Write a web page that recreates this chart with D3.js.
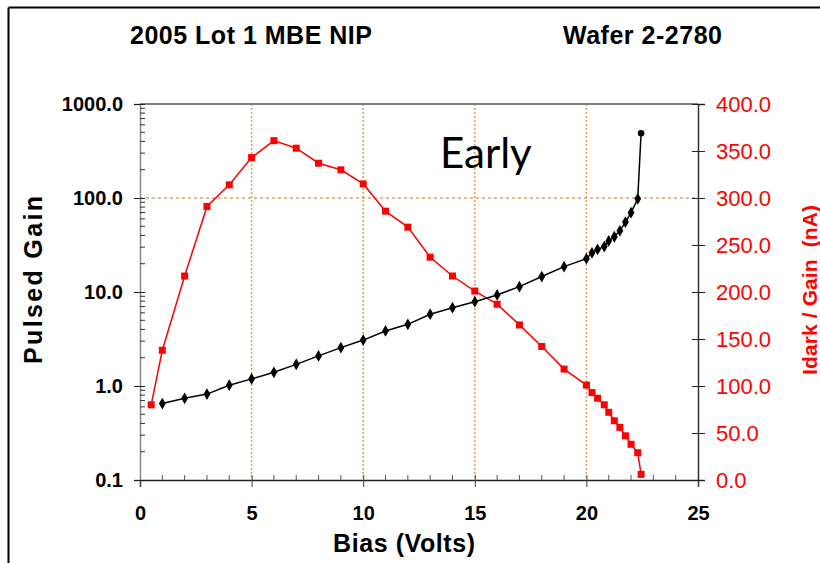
<!DOCTYPE html>
<html><head><meta charset="utf-8">
<script src="https://cdn.jsdelivr.net/npm/d3@7"></script>
<style>body{margin:0;background:#fff}svg{display:block}</style>
</head><body>
<script>
const biasGain = [1,2,3,4,5,6,7,8,9,10,11,12,13,14,15,16,17,18,19,20,20.25,20.5,20.8,21,21.25,21.5,21.75,22,22.3,22.45];
const gain = [0.65,0.74,0.82,1.02,1.19,1.40,1.70,2.09,2.56,3.08,3.85,4.53,5.80,6.81,7.88,9.3,11.4,14.6,18.6,22.6,26.1,28.4,30.4,34.9,38.7,44.8,55.5,69.8,97.9,488];
const biasDark = [0.5,1,2,3,4,5,6,7,8,9,10,11,12,13,14,15,16,17,18,19,20,20.25,20.5,20.8,21,21.25,21.5,21.75,22,22.3,22.45];
const idarkGain = [80,138,217,291,314,343,361,353,337,330,315,286,269,237,217,201,187,165,142,118,101,93,87,80,72,63,56,47,38,29,6];
const xTicks = [0,5,10,15,20,25];
const yLeftTicks = [0.1,1,10,100,1000];
const yRightTicks = [0,50,100,150,200,250,300,350,400];

const W=820,H=563;
const svg=d3.select("body").append("svg").attr("width",W).attr("height",H);
const L=140,R=698,T=104,B=480;
const x=d3.scaleLinear().domain([0,25]).range([L,R]);
const yL=d3.scaleLog().domain([0.1,1000]).range([B,T]);
const yR=d3.scaleLinear().domain([0,400]).range([B,T]);
const font="Liberation Sans, Arial";

// outer frame (left/top visible)
svg.append("line").attr("x1",8.5).attr("x2",8.5).attr("y1",7.5).attr("y2",H).attr("stroke","#000").attr("stroke-width",2);
svg.append("line").attr("x1",8.5).attr("x2",W).attr("y1",7.5).attr("y2",7.5).attr("stroke","#000").attr("stroke-width",2);

// titles
svg.append("text").attr("x",130).attr("y",44).attr("font-family",font).attr("font-weight","bold").attr("font-size",25).attr("textLength",242).text("2005 Lot 1 MBE NIP");
svg.append("text").attr("x",563).attr("y",44).attr("font-family",font).attr("font-weight","bold").attr("font-size",25).attr("textLength",159).text("Wafer 2-2780");

// grid
const g=svg.append("g");
g.selectAll("line.vg").data(xTicks.filter(d=>d>0&&d<25)).join("line")
 .attr("x1",d=>x(d)).attr("x2",d=>x(d)).attr("y1",T).attr("y2",B)
 .attr("stroke","#e0a050").attr("stroke-width",1.5).attr("stroke-dasharray","2,2");
g.append("line").attr("x1",L).attr("x2",R).attr("y1",yL(100)).attr("y2",yL(100))
 .attr("stroke","#e07020").attr("stroke-width",1).attr("stroke-dasharray","3,3");

// plot top border
svg.append("line").attr("x1",L).attr("x2",R).attr("y1",T).attr("y2",T).attr("stroke","#808080").attr("stroke-width",2);

// bottom axis
const xAx=d3.axisBottom(x).tickValues(xTicks).tickSize(7).tickFormat(d3.format("d"));
const gx=svg.append("g").attr("transform",`translate(0,${B})`).call(xAx);
gx.select(".domain").attr("stroke","#222").attr("stroke-width",1.5);
gx.selectAll(".tick line").attr("y1",-5).attr("y2",7).attr("stroke","#444");
gx.selectAll("text").attr("font-family",font).attr("font-weight","bold").attr("font-size",20).attr("fill","#000").attr("y",26).attr("dy","0.71em");
svg.append("g").selectAll("line").data(d3.range(1,25).filter(d=>d%5)).join("line")
 .attr("x1",d=>x(d)).attr("x2",d=>x(d)).attr("y1",B-5).attr("y2",B).attr("stroke","#555");

// left axis
const yLAx=d3.axisLeft(yL).tickValues(yLeftTicks).tickSize(6).tickFormat(d=>d<1?"0.1":d3.format(".1f")(d));
const gyl=svg.append("g").attr("transform",`translate(${L},0)`).call(yLAx);
gyl.select(".domain").attr("stroke","#888").attr("stroke-width",1.5);
gyl.selectAll(".tick line").attr("x1",-6).attr("x2",5).attr("stroke","#222");
gyl.selectAll("text").attr("font-family",font).attr("font-weight","bold").attr("font-size",20).attr("fill","#000").attr("dx","-8");
const minors=[];
[0.1,1,10,100].forEach(dec=>{for(let k=2;k<=9;k++)minors.push(dec*k);});
svg.append("g").selectAll("line").data(minors).join("line")
 .attr("x1",L).attr("x2",L+5).attr("y1",d=>yL(d)).attr("y2",d=>yL(d)).attr("stroke","#333");

// right axis
const yRAx=d3.axisRight(yR).tickValues(yRightTicks).tickSize(7).tickFormat(d3.format(".1f"));
const gyr=svg.append("g").attr("transform",`translate(${R},0)`).call(yRAx);
gyr.select(".domain").attr("stroke","#333").attr("stroke-width",1.5);
gyr.selectAll(".tick line").attr("x1",-6).attr("x2",7).attr("stroke","#222");
gyr.selectAll("text").attr("font-family",font).attr("font-size",22).attr("fill","#ff0000").attr("dx","8");

// axis titles
svg.append("text").attr("x",404).attr("y",552).attr("text-anchor","middle").attr("font-family",font).attr("font-weight","bold").attr("font-size",25).attr("textLength",142).text("Bias (Volts)");
svg.append("text").attr("transform",`translate(42,280) rotate(-90)`).attr("text-anchor","middle").attr("font-family",font).attr("font-weight","bold").attr("font-size",25).attr("textLength",168).text("Pulsed Gain");
svg.append("text").attr("transform",`translate(817,290) rotate(-90)`).attr("text-anchor","middle").attr("font-family",font).attr("font-weight","bold").attr("font-size",21).attr("fill","#ff0000").attr("textLength",170).style("white-space","pre").text("Idark / Gain  (nA)");

// series
const gainData=biasGain.map((b,i)=>[b,gain[i]]);
const darkData=biasDark.map((b,i)=>[b,idarkGain[i]]);
svg.append("path").datum(darkData).attr("fill","none").attr("stroke","#ff0000").attr("stroke-width",1.5)
 .attr("d",d3.line().x(d=>x(d[0])).y(d=>yR(d[1])));
svg.append("g").selectAll("rect").data(darkData).join("rect")
 .attr("x",d=>x(d[0])-3.5).attr("y",d=>yR(d[1])-3.5).attr("width",7).attr("height",7).attr("fill","#ff0000");
svg.append("path").datum(gainData).attr("fill","none").attr("stroke","#000").attr("stroke-width",1.5)
 .attr("d",d3.line().x(d=>x(d[0])).y(d=>yL(d[1])));
svg.append("g").selectAll("path").data(gainData).join("path")
 .attr("transform",d=>`translate(${x(d[0])},${yL(d[1])})`)
 .attr("d",(d,i)=>d3.symbol(i===gainData.length-1?d3.symbolCircle:d3.symbolDiamond,i===gainData.length-1?34:40)()).attr("fill","#000");

svg.append("text").attr("x",440).attr("y",168).attr("font-family","Lato, Carlito, sans-serif").attr("font-size",42).attr("fill","#000").text("Early");
</script>
</body></html>
